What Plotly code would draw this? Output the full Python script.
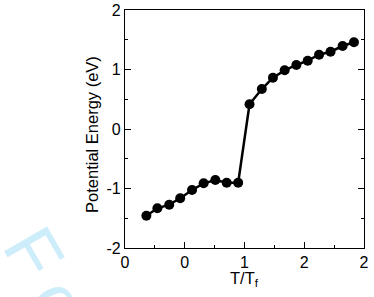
import plotly.graph_objects as go

x_vals = [0.179, 0.271, 0.370, 0.462, 0.561, 0.658, 0.756, 0.851, 0.947,
          1.042, 1.145, 1.238, 1.336, 1.434, 1.529, 1.624, 1.720, 1.821, 1.916]
y_vals = [-1.457, -1.333, -1.272, -1.165, -1.025, -0.913, -0.857, -0.902, -0.902,
          0.415, 0.672, 0.862, 0.986, 1.076, 1.148, 1.249, 1.299, 1.395, 1.457]
x_tickvals = [0, 0.5, 1, 1.5, 2]
x_ticktext = ["0", "0", "1", "2", "2"]
y_tickvals = [-2, -1, 0, 1, 2]
y_ticktext = ["-2", "-1", "0", "1", "2"]

font = "Liberation Sans, Arial, sans-serif"

fig = go.Figure()
fig.add_trace(go.Scatter(
    x=x_vals, y=y_vals, mode="lines+markers",
    line=dict(color="black", width=2.5),
    marker=dict(color="black", size=10),
    showlegend=False,
))

fig.update_layout(
    width=374, height=297,
    margin=dict(l=125, r=10, t=10, b=49),
    paper_bgcolor="white", plot_bgcolor="white",
    font=dict(family=font, color="black"),
)

# faint watermark remnants (drawn first so they sit behind other annotations)
fig.add_annotation(x=-0.38, y=-0.02, xref="paper", yref="paper", text="F",
                   showarrow=False, textangle=60, xanchor="center", yanchor="middle",
                   font=dict(size=72, color="#cdedfb", family=font))
fig.add_annotation(x=-0.27, y=-0.23, xref="paper", yref="paper", text="o",
                   showarrow=False, textangle=60, xanchor="center", yanchor="middle",
                   font=dict(size=72, color="#cdedfb", family=font))

fig.update_xaxes(
    range=[0, 2], tickvals=x_tickvals, ticktext=x_ticktext,
    ticks="inside", ticklen=6, tickwidth=1, tickcolor="black",
    minor=dict(ticks="inside", ticklen=3, dtick=0.25, tickcolor="black", tickwidth=1),
    showline=True, linecolor="black", linewidth=1.2, mirror=True,
    showgrid=False, zeroline=False,
    tickfont=dict(size=16),
    automargin=False,
)
fig.update_yaxes(
    range=[-2, 2], tickvals=y_tickvals, ticktext=y_ticktext,
    ticks="inside", ticklen=6, tickwidth=1, tickcolor="black",
    minor=dict(ticks="inside", ticklen=3, dtick=0.5, tickcolor="black", tickwidth=1),
    showline=True, linecolor="black", linewidth=1.2, mirror="ticks",
    showgrid=False, zeroline=False,
    tickfont=dict(size=16),
    automargin=False,
)

# axis titles
fig.add_annotation(x=0.5, y=-0.13, xref="paper", yref="paper",
                   text="T/T<sub>f</sub>", showarrow=False,
                   xanchor="center", yanchor="middle", font=dict(size=16.5))
fig.add_annotation(x=-0.138, y=0.475, xref="paper", yref="paper",
                   text="Potential Energy (eV)", showarrow=False, textangle=-90,
                   xanchor="center", yanchor="middle", font=dict(size=16.5))

fig.write_html("out.html")
